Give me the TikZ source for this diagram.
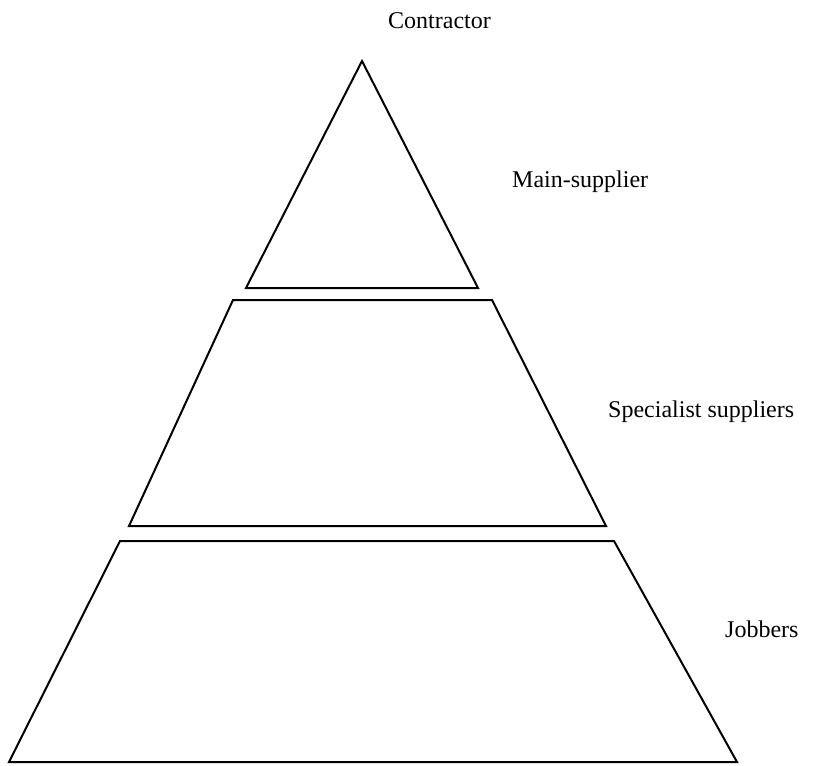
\documentclass[tikz,border=0pt]{standalone}
\usepackage{fontspec}
\setmainfont{Liberation Serif}
\begin{document}
\begin{tikzpicture}[x=1pt,y=-1pt,
  tier/.style={draw=black,line width=2pt,line join=miter},
  lbl/.style={anchor=base west,inner sep=0pt,font=\fontsize{24}{28}\selectfont}]
\useasboundingbox (0,0) rectangle (837,765);
% top triangle
\coordinate (apex) at (362,61);
\coordinate (t1l) at (246,288);
\coordinate (t1r) at (478,288);
\draw[tier] (apex) -- (t1r) -- (t1l) -- cycle;
% middle trapezoid
\coordinate (t2tl) at (233,300);
\coordinate (t2tr) at (492,300);
\coordinate (t2br) at (606,526);
\coordinate (t2bl) at (129,526);
\draw[tier] (t2tl) -- (t2tr) -- (t2br) -- (t2bl) -- cycle;
% bottom trapezoid
\coordinate (t3tl) at (120,541);
\coordinate (t3tr) at (614,541);
\coordinate (t3br) at (737,762);
\coordinate (t3bl) at (9,762);
\draw[tier] (t3tl) -- (t3tr) -- (t3br) -- (t3bl) -- cycle;
% labels
\node[lbl] (contractor) at (388,29) {Contractor};
\node[lbl] (mainsup) at (512,187) {Main-supplier};
\node[lbl] (spec) at (608,417) {Specialist suppliers};
\node[lbl] (jobbers) at (725,637) {Jobbers};
\end{tikzpicture}
\end{document}
